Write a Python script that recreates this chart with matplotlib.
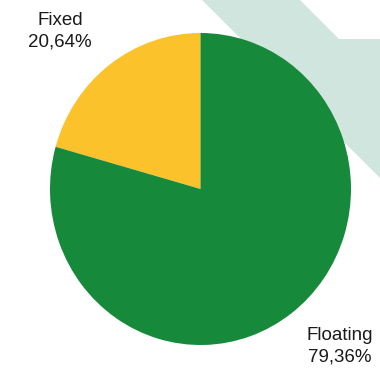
import matplotlib.pyplot as plt
from matplotlib.patches import Polygon

plt.rcParams['font.family'] = ['Liberation Sans', 'DejaVu Sans']

labels = ["Fixed", "Floating"]
shares = [20.64, 79.36]
colors = ["#fcc22b", "#168a3a"]


def fmt(name, pct):
    return name + "\n" + ("%.2f%%" % pct).replace(".", ",")


fig = plt.figure(figsize=(3.8, 3.71), dpi=100)

# background decoration, pixel coords
bg = fig.add_axes([0, 0, 1, 1])
bg.set_xlim(0, 380)
bg.set_ylim(371, 0)
bg.axis("off")
bg.add_patch(Polygon([(202, 0), (300, 0), (339, 39), (380, 39), (380, 178)],
                     closed=True, facecolor="#d1e5df", edgecolor="none"))

# pie, slightly stretched vertically like the original
ax = fig.add_axes([50 / 380, (371 - 345) / 371, 301 / 380, 312 / 371])
ax.pie(shares, colors=colors, startangle=90, counterclock=True,
       wedgeprops=dict(linewidth=0))
ax.set_aspect("auto")
ax.set_xlim(-1, 1)
ax.set_ylim(-1, 1)

bg.text(60, 31, fmt(labels[0], shares[0]), ha="center", va="center",
        fontsize=13.5, color="#1a1a1a", linespacing=1.35)
bg.text(340, 346, fmt(labels[1], shares[1]), ha="center", va="center",
        fontsize=13.5, color="#1a1a1a", linespacing=1.35)

fig.savefig("out.png", dpi=100)
